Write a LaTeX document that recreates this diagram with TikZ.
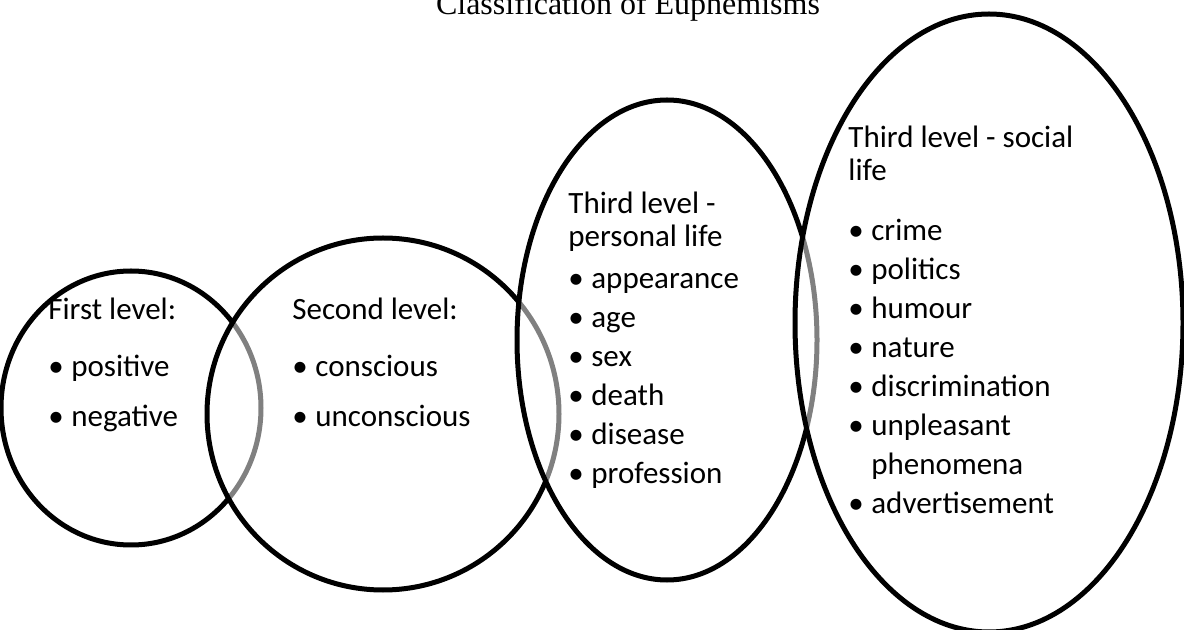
\documentclass[tikz,border=0pt]{standalone}
\usepackage{fontspec}
\setmainfont{Carlito}
\newfontfamily\titlefont{Liberation Serif}

\newcommand{\dotitem}{\makebox[11.5pt][l]{•}}

\tikzset{
  ring/.style={line width=2.5pt, fill=white, fill opacity=0.5},
  level/.style={anchor=north west, inner sep=0pt, align=left, font=\fontsize{15.5}{16.5}\selectfont},
}

\begin{document}
\begin{tikzpicture}[x=0.5pt,y=-0.5pt]
    \useasboundingbox (0,0) rectangle (1184,630);

    % Title
    \node [anchor=base] (title) at (628,15) {\titlefont\fontsize{16}{18}\selectfont Classification of Euphemisms};

    % Rings, each one greys the outline it covers
    \draw [ring] (131,408) ellipse (130 and 137);
    \draw [ring] (383,414) ellipse (176 and 176);
    \draw [ring] (667,340) ellipse (150 and 240);
    \draw [ring] (989,323) ellipse (194 and 309);

    % Levels
    \node [level] (first) at (48,298) {First level:\\[12pt]
        \dotitem positive\\[8.5pt]
        \dotitem negative};
    \node [level] (second) at (292,298) {Second level:\\[12pt]
        \dotitem conscious\\[8.5pt]
        \dotitem unconscious};
    \node [level] (personal) at (568,192) {Third level -\\
        personal life\\[4.5pt]
        \dotitem appearance\\[3pt]
        \dotitem age\\[3pt]
        \dotitem sex\\[3pt]
        \dotitem death\\[3pt]
        \dotitem disease\\[3pt]
        \dotitem profession};
    \node [level] (social) at (848,126) {Third level - social\\
        life\\[13.5pt]
        \dotitem crime\\[3pt]
        \dotitem politics\\[3pt]
        \dotitem humour\\[3pt]
        \dotitem nature\\[3pt]
        \dotitem discrimination\\[3pt]
        \dotitem unpleasant\\[3pt]
        \hspace*{11.5pt}phenomena\\[3pt]
        \dotitem advertisement};
\end{tikzpicture}
\end{document}
